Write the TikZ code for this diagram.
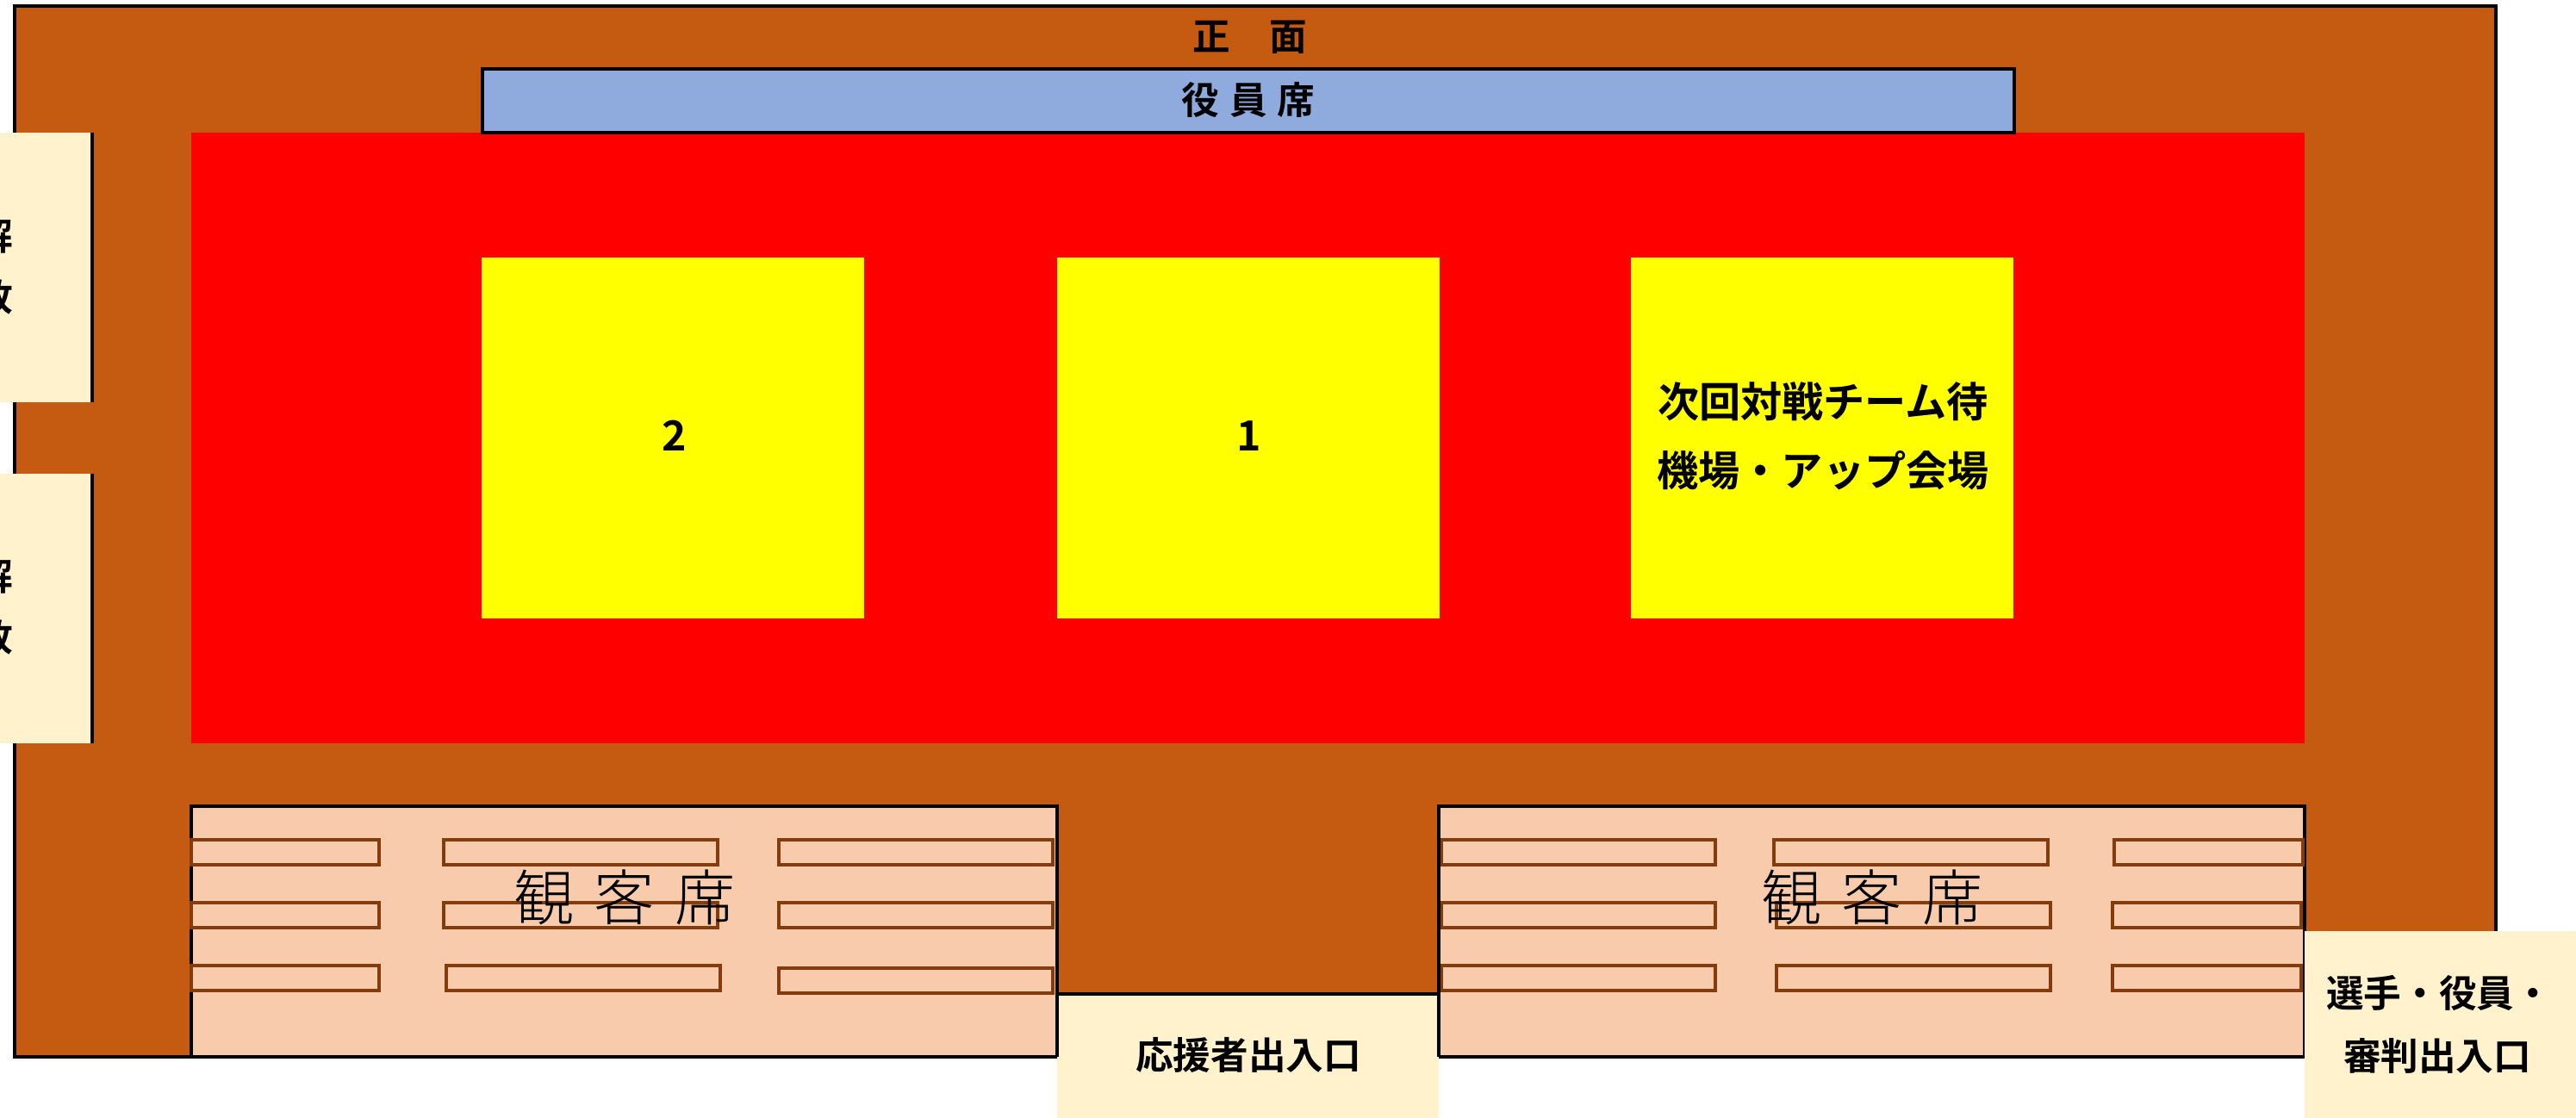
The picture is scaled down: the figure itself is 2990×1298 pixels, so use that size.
\documentclass[tikz,border=0pt]{standalone}
\usepackage{fontspec}
\setmainfont{Noto Sans CJK JP Bold}
\newfontfamily\thinjp{Noto Sans CJK JP Light}
\definecolor{hallbrown}{HTML}{C55A11}
\definecolor{seatpeach}{HTML}{F8CBAD}
\definecolor{doorcream}{HTML}{FFF2CC}
\definecolor{deskblue}{HTML}{8FAADC}
\definecolor{benchbrown}{HTML}{843C0C}
\definecolor{courtyellow}{HTML}{FFFF00}
\definecolor{floorred}{HTML}{FF0000}
\begin{document}
\begin{tikzpicture}
	[x=0.01cm,y=-0.01cm,
	Wall/.style={line width=1.1pt},
	Bench/.style={draw=benchbrown,line width=1.2pt},
	Label/.style={inner sep=0pt,font=\fontsize{12.4pt}{12.4pt}\selectfont},
	BigLabel/.style={inner sep=0pt,font=\fontsize{13.7pt}{22.7pt}\selectfont,align=center},
	SeatLabel/.style={inner sep=0pt,font=\thinjp\fontsize{20pt}{20pt}\selectfont}]
	
	\useasboundingbox (0,0) rectangle (2990,1298);
	
	% 场地
	\fill[hallbrown] (17,7) rectangle (2897,1227);
	\draw[Wall] (222,1227) -- (17,1227) -- (17,7) -- (2897,7) -- (2897,1081);
	\fill[floorred] (222,154) rectangle (2675,863);
	
	% 役员席
	\draw[Wall,fill=deskblue] (560,80) rectangle (2338,154);
	\node[Label] (front) at (1451,43) {正\hspace{13pt}面};
	\node[Label] (desk) at (1449,116) {役\hspace{3.4pt}員\hspace{3.4pt}席};
	
	% 黄色场地
	\foreach \x in {559,1227,1893}
	\fill[courtyellow] (\x,299) rectangle ++(444,419);
	\node[BigLabel] (court_2) at (783,506) {2};
	\node[BigLabel] (court_1) at (1450,506) {1};
	\node[BigLabel] (waiting) at (2116,506) {次回対戦チーム待\\機場・アップ会場};
	
	% 左侧
	\foreach \y in {154,550}
	{\fill[doorcream] (0,\y) rectangle (107,\y+313);
		\draw[Wall] (107,\y) -- (107,\y+313);
	}
	\node[Label] (left_1a) at (-7,274) {解};
	\node[Label] (left_1b) at (-7,345) {放};
	\node[Label] (left_2a) at (-7,669) {解};
	\node[Label] (left_2b) at (-7,740) {放};
	
	% 观众席
	\draw[Wall,fill=seatpeach] (222,936) rectangle (1227,1227);
	\draw[Wall,fill=seatpeach] (1670,936) rectangle (2675,1227);
	\foreach \a/\b/\y in {222/440/975,222/440/1048,222/440/1121,
		515/833/975,515/833/1048,518/836/1121,
		904/1222/975,904/1222/1048,904/1222/1124,
		1673/1991/975,1673/1991/1048,1673/1991/1121,
		2059/2377/975,2062/2380/1048,2062/2380/1121,
		2454/2673/975,2452/2671/1048,2452/2671/1121}
	\draw[Bench] (\a,\y) rectangle (\b,\y+29);
	\node[SeatLabel] (seat_1) at (725,1042) {観\hspace{6.5pt}客\hspace{6.5pt}席};
	\node[SeatLabel] (seat_2) at (2173,1042) {観\hspace{6.5pt}客\hspace{6.5pt}席};
	
	% 出入口
	\fill[doorcream] (1227,1154) rectangle (1670,1298);
	\draw[Wall] (1227,1154) -- (1670,1154);
	\fill[doorcream] (2675,1081) rectangle (2990,1298);
	\draw[Wall] (1227,936) -- (1227,1227);
	\draw[Wall] (1670,936) -- (1670,1227);
	\node[Label] (door_1) at (1449,1225) {応援者出入口};
	\node[Label] (door_2a) at (2831,1153) {選手・役員・};
	\node[Label] (door_2b) at (2829,1226) {審判出入口};
\end{tikzpicture}
\end{document}
